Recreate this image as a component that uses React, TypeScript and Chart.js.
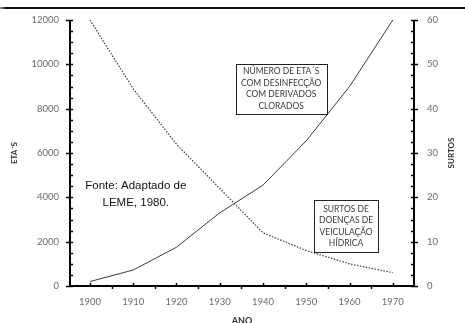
import React, { useEffect, useRef } from "react";
import { Chart, registerables } from "chart.js";

Chart.register(...registerables);

const years = [1900, 1910, 1920, 1930, 1940, 1950, 1960, 1970];
const etas = [200, 720, 1750, 3300, 4550, 6550, 9000, 12000];
const surtos = [60, 44.5, 32, 22, 12, 8, 5, 3];
const leftTicks = [0, 2000, 4000, 6000, 8000, 10000, 12000];
const rightTicks = [0, 10, 20, 30, 40, 50, 60];
const etaLabel = ["NÚMERO DE ETA´S", "COM DESINFECÇÃO", "COM DERIVADOS", "CLORADOS"];
const surtoLabel = ["SURTOS DE", "DOENÇAS DE", "VEICULAÇÃO", "HÍDRICA"];
const sourceLabel = ["Fonte: Adaptado de", "LEME, 1980."];

const tickFont = { family: "Lato", size: 9.5 };
const tickColor = "#6b6b6b";

const decorPlugin = {
  id: "decor",
  afterDraw(chart: any) {
    const ctx = chart.ctx;
    const ca = chart.chartArea;
    const x = chart.scales.x;
    const y = chart.scales.y;
    const y1 = chart.scales.y1;
    ctx.save();
    ctx.strokeStyle = "#000";
    ctx.lineWidth = 2;
    ctx.beginPath();
    ctx.moveTo(ca.left, ca.top);
    ctx.lineTo(ca.left, ca.bottom);
    ctx.moveTo(ca.right, ca.top);
    ctx.lineTo(ca.right, ca.bottom);
    ctx.moveTo(ca.left - 1, ca.bottom);
    ctx.lineTo(ca.right + 1, ca.bottom);
    ctx.stroke();

    ctx.lineWidth = 1.5;
    ctx.beginPath();
    // left axis ticks
    for (let v = 0; v <= 12000; v += 500) {
      const py = Math.round(y.getPixelForValue(v)) + 0.5;
      if (v % 2000 === 0) {
        ctx.moveTo(ca.left - 4, py);
        ctx.lineTo(ca.left + 3, py);
      } else {
        ctx.moveTo(ca.left, py);
        ctx.lineTo(ca.left + 3, py);
      }
    }
    for (let v = 0; v <= 60; v += 2.5) {
      const py = Math.round(y1.getPixelForValue(v)) + 0.5;
      if (v % 10 === 0) {
        ctx.moveTo(ca.right - 3, py);
        ctx.lineTo(ca.right + 4, py);
      } else {
        ctx.moveTo(ca.right - 3, py);
        ctx.lineTo(ca.right, py);
      }
    }
    for (let v = 1900; v <= 1970; v += 5) {
      const px = Math.round(x.getPixelForValue(v)) + 0.5;
      if (v % 10 === 0) {
        ctx.moveTo(px, ca.bottom - 3);
        ctx.lineTo(px, ca.bottom);
      } else {
        ctx.moveTo(px, ca.bottom);
        ctx.lineTo(px, ca.bottom + 3);
      }
    }
    ctx.stroke();

    // axis titles
    ctx.fillStyle = "#333";
    ctx.textAlign = "center";
    ctx.textBaseline = "middle";
    ctx.font = "bold 8px Lato";
    const cy = (ca.top + ca.bottom) / 2;
    ctx.save();
    ctx.translate(14, cy);
    ctx.rotate(-Math.PI / 2);
    ctx.fillText("ETA´S", 0, 0);
    ctx.restore();
    ctx.save();
    ctx.translate(451, cy);
    ctx.rotate(-Math.PI / 2);
    ctx.fillText("SURTOS", 0, 0);
    ctx.restore();
    ctx.font = "bold 9px Lato";
    ctx.fillText("ANO", (ca.left + ca.right) / 2, 321);

    // annotation boxes
    const box = (cx: number, cyy: number, w: number, h: number, lines: string[], lh: number) => {
      ctx.fillStyle = "#fff";
      ctx.fillRect(cx - w / 2, cyy - h / 2, w, h);
      ctx.strokeStyle = "#222";
      ctx.lineWidth = 1;
      ctx.strokeRect(Math.round(cx - w / 2) + 0.5, Math.round(cyy - h / 2) + 0.5, w, h);
      ctx.fillStyle = "#3a3a3a";
      ctx.font = "8.5px Lato";
      const start = cyy - ((lines.length - 1) * lh) / 2;
      lines.forEach((l, i) => ctx.fillText(l, cx, start + i * lh));
    };
    box(x.getPixelForValue(1944.2), y.getPixelForValue(8900), 91, 50, etaLabel, 11.5);
    box(x.getPixelForValue(1959.2), y1.getPixelForValue(13.5), 64, 52, surtoLabel, 11.5);

    ctx.fillStyle = "#111";
    ctx.font = "11.5px 'Liberation Sans'";
    const fx = x.getPixelForValue(1910.6);
    ctx.fillText(sourceLabel[0], fx, y.getPixelForValue(4500));
    ctx.fillText(sourceLabel[1], fx, y.getPixelForValue(3730));
    ctx.restore();
  },
};

export default function App() {
  const ref = useRef<HTMLCanvasElement>(null);
  useEffect(() => {
    if (!ref.current) return;
    const chart = new Chart(ref.current, {
      type: "line",
      data: {
        datasets: [
          {
            label: "ETAs",
            data: years.map((yr, i) => ({ x: yr, y: etas[i] })),
            borderColor: "#3a3a3a",
            borderWidth: 1,
            pointRadius: 0,
            yAxisID: "y",
            tension: 0,
          },
          {
            label: "Surtos",
            data: years.map((yr, i) => ({ x: yr, y: surtos[i] })),
            borderColor: "#3a3a3a",
            borderWidth: 1.2,
            borderDash: [1.5, 1.5],
            pointRadius: 0,
            yAxisID: "y1",
            tension: 0,
          },
        ],
      },
      options: {
        responsive: false,
        animation: false,
        layout: { padding: { top: 20, left: 0, right: 0, bottom: 0 } },
        plugins: { legend: { display: false }, tooltip: { enabled: false } },
        scales: {
          x: {
            type: "linear",
            min: 1895.4,
            max: 1974.9,
            position: "bottom",
            afterBuildTicks: (s: any) => {
              s.ticks = years.map((v) => ({ value: v }));
            },
            afterFit: (s: any) => {
              s.height = 37;
            },
            grid: { display: false, drawTicks: false },
            border: { display: false },
            ticks: { font: tickFont, color: tickColor, padding: 10, maxRotation: 0, callback: (v: any) => String(v) },
          },
          y: {
            type: "linear",
            position: "left",
            min: 0,
            max: 12000,
            afterBuildTicks: (s: any) => {
              s.ticks = leftTicks.map((v) => ({ value: v }));
            },
            afterFit: (s: any) => {
              s.width = 70;
            },
            grid: { display: false, drawTicks: false },
            border: { display: false },
            ticks: { font: tickFont, color: tickColor, padding: 11, callback: (v: any) => String(v) },
          },
          y1: {
            type: "linear",
            position: "right",
            min: 0,
            max: 60,
            afterBuildTicks: (s: any) => {
              s.ticks = rightTicks.map((v) => ({ value: v }));
            },
            afterFit: (s: any) => {
              s.width = 51;
            },
            grid: { display: false, drawTicks: false },
            border: { display: false },
            ticks: { font: tickFont, color: tickColor, padding: 13, callback: (v: any) => String(v) },
          },
        },
      },
      plugins: [decorPlugin],
    } as any);
    return () => chart.destroy();
  }, []);
  return (
    <div style={{ position: "fixed", top: 0, left: 0, width: 465, height: 323, background: "#fff", overflow: "hidden" }}>
      <div style={{ position: "absolute", top: 7, left: 0, width: 465, height: 1.5, background: "linear-gradient(to right, #9ab 0px, #111 6px, #111 100%)" }} />
      <canvas ref={ref} width={465} height={323} style={{ display: "block" }} />
    </div>
  );
}
